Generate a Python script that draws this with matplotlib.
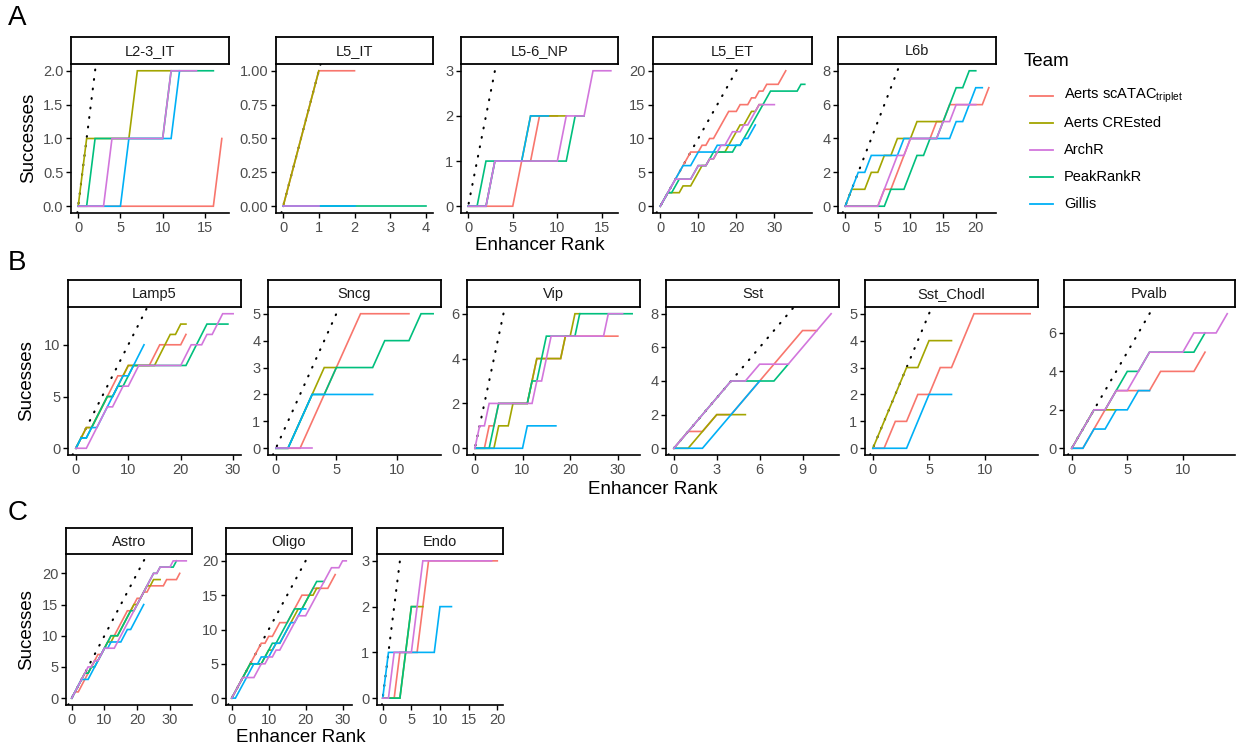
import matplotlib
matplotlib.use("Agg")
import matplotlib.pyplot as plt
from matplotlib.lines import Line2D
import numpy as np

plt.rcParams['font.family'] = ['Liberation Sans', 'DejaVu Sans']

W, H = 1236, 748

TEAMS = ["Aerts scATAC", "Aerts CREsted", "ArchR", "PeakRankR", "Gillis"]
TEAM_LABELS = ["Aerts scATAC$_{\\mathregular{triplet}}$", "Aerts CREsted", "ArchR", "PeakRankR", "Gillis"]
TEAM_COLORS = ["#F8766D", "#A3A500", "#D276DC", "#00BF7D", "#00B0F6"]
DRAW_ORDER = ["Aerts scATAC", "Aerts CREsted", "PeakRankR", "Gillis", "ArchR"]

# cumulative successes at enhancer rank 0..n
L2_3_IT = {
    "Aerts scATAC": [0, 0, 0, 0, 0, 0, 0, 0, 0, 0, 0, 0, 0, 0, 0, 0, 0, 1],
    "Aerts CREsted": [0, 1, 1, 1, 1, 1, 1, 2, 2, 2, 2, 2],
    "ArchR": [0, 0, 0, 0, 1, 1, 1, 1, 1, 1, 1, 2, 2, 2, 2],
    "PeakRankR": [0, 0, 1, 1, 1, 1, 1, 1, 1, 1, 1, 2, 2, 2, 2, 2, 2],
    "Gillis": [0, 0, 0, 0, 0, 0, 1, 1, 1, 1, 1, 1, 2],
}
L5_IT = {
    "Aerts scATAC": [0, 1, 1],
    "Aerts CREsted": [0, 1],
    "ArchR": [0, 0],
    "PeakRankR": [0, 0, 0, 0, 0],
    "Gillis": [0, 0, 0],
}
L5_6_NP = {
    "Aerts scATAC": [0, 0, 0, 0, 0, 0, 1, 1, 2, 2, 2],
    "Aerts CREsted": [0, 0, 0, 1, 1, 1, 1, 2, 2, 2, 2, 2],
    "ArchR": [0, 0, 0, 1, 1, 1, 1, 1, 1, 1, 1, 2, 2, 2, 3, 3, 3],
    "PeakRankR": [0, 0, 1, 1, 1, 1, 1, 1, 1, 1, 1, 1, 2, 2],
    "Gillis": [0, 0, 0, 1, 1, 1, 1, 2, 2, 2],
}
L5_ET = {
    "Aerts scATAC": [0, 1, 2, 3, 4, 5, 6, 7, 8, 8, 8, 9, 9, 10, 10, 11, 12, 13, 14, 14, 14,
                     15, 15, 15, 16, 16, 17, 17, 18, 18, 18, 18, 19, 20],
    "Aerts CREsted": [0, 1, 2, 2, 2, 2, 3, 3, 3, 4, 5, 6, 6, 7, 7, 8, 8, 8, 9, 10, 11, 12, 12,
                      13, 14, 14, 15, 15],
    "ArchR": [0, 1, 2, 3, 4, 4, 4, 4, 4, 5, 6, 6, 6, 7, 7, 8, 9, 9, 10, 11, 11, 11, 12, 12,
              13, 14, 15, 15, 15, 15, 15],
    "PeakRankR": [0, 1, 2, 2, 3, 4, 4, 4, 4, 5, 6, 6, 6, 7, 8, 8, 8, 8, 8, 8, 9, 9, 10, 11,
                  12, 13, 14, 15, 16, 17, 17, 17, 17, 17, 17, 17, 17, 18, 18],
    "Gillis": [0, 1, 2, 3, 4, 5, 6, 6, 6, 7, 8, 8, 8, 8, 8, 9, 9, 9, 9, 9, 9, 9, 10, 10, 11, 12],
}
L6b = {
    "Aerts scATAC": [0, 0, 0, 0, 0, 0, 1, 1, 2, 3, 4, 4, 4, 4, 5, 5, 6, 6, 6, 6, 6, 6, 7],
    "Aerts CREsted": [0, 1, 1, 1, 2, 2, 3, 3, 4, 4, 4, 5, 5, 5, 5, 5],
    "ArchR": [0, 0, 0, 0, 0, 0, 1, 2, 3, 3, 4, 4, 4, 4, 4, 5, 5, 6, 6, 6, 6],
    "PeakRankR": [0, 0, 0, 0, 0, 0, 0, 1, 1, 1, 2, 3, 3, 4, 4, 5, 6, 7, 7, 8, 8],
    "Gillis": [0, 1, 2, 2, 3, 3, 3, 3, 3, 4, 4, 4, 4, 4, 4, 4, 4, 5, 5, 6, 7, 7],
}
Lamp5 = {
    "Aerts scATAC": [0, 1, 2, 2, 3, 4, 5, 6, 7, 7, 8, 8, 8, 8, 8, 9, 10, 10, 10, 10, 10, 11],
    "Aerts CREsted": [0, 1, 2, 2, 3, 4, 5, 5, 6, 7, 8, 8, 8, 8, 8, 8, 9, 10, 11, 11, 12, 12],
    "ArchR": [0, 0, 0, 1, 2, 3, 4, 4, 5, 6, 6, 7, 8, 8, 8, 8, 8, 8, 8, 8, 8, 9, 10, 10, 10,
              11, 11, 12, 13, 13, 13],
    "PeakRankR": [0, 1, 1, 2, 3, 4, 5, 5, 6, 6, 7, 8, 8, 8, 8, 8, 8, 8, 8, 8, 8, 8, 9, 10, 11,
                  12, 12, 12, 12, 12],
    "Gillis": [0, 1, 1, 2, 2, 3, 4, 5, 6, 7, 7, 8, 9, 10],
}
Sncg = {
    "Aerts scATAC": [0, 0, 0, 1, 2, 3, 4, 5, 5, 5, 5, 5],
    "Aerts CREsted": [0, 0, 1, 2, 3, 3],
    "ArchR": [0, 0, 0, 0],
    "PeakRankR": [0, 0, 1, 2, 2, 3, 3, 3, 3, 4, 4, 4, 5, 5],
    "Gillis": [0, 0, 1, 2, 2, 2, 2, 2, 2],
}
Vip = {
    "Aerts scATAC": [0, 0, 0, 1, 1, 2, 2, 2, 2, 2, 2, 2, 3, 4, 4, 4, 4, 4, 4, 5, 5, 5, 5, 5,
                     5, 5, 5, 5, 5, 5, 5],
    "Aerts CREsted": [0, 0, 0, 0, 0, 1, 1, 1, 2, 2, 2, 2, 3, 4, 4, 4, 4, 4, 4, 5, 5, 6, 6],
    "ArchR": [0, 1, 1, 2, 2, 2, 2, 2, 2, 2, 2, 2, 2, 3, 3, 4, 5, 5, 5, 5, 5, 5, 5, 5, 5, 5,
              5, 5, 6, 6, 6, 6],
    "PeakRankR": [0, 0, 0, 0, 1, 2, 2, 2, 2, 2, 2, 2, 3, 3, 4, 5, 5, 5, 5, 5, 5, 5, 6, 6, 6,
                  6, 6, 6, 6, 6, 6, 6, 6, 6],
    "Gillis": [0, 0, 0, 0, 0, 0, 0, 0, 0, 0, 0, 1, 1, 1, 1, 1, 1, 1],
}
Sst = {
    "Aerts scATAC": [0, 1, 1, 2, 2, 3, 4, 5, 6, 7, 7],
    "Aerts CREsted": [0, 0, 1, 2, 2, 2],
    "ArchR": [0, 1, 2, 3, 4, 4, 5, 5, 5, 6, 7, 8],
    "PeakRankR": [0, 1, 2, 3, 4, 4, 4, 4, 5],
    "Gillis": [0, 0, 0, 1, 2, 3, 4],
}
Sst_Chodl = {
    "Aerts scATAC": [0, 0, 1, 1, 2, 2, 3, 3, 4, 5, 5, 5, 5, 5, 5],
    "Aerts CREsted": [0, 1, 2, 3, 3, 4, 4, 4],
    "Gillis": [0, 0, 0, 0, 1, 2, 2, 2],
}
Pvalb = {
    "Aerts scATAC": [0, 0, 1, 2, 3, 3, 3, 3, 4, 4, 4, 4, 5],
    "Aerts CREsted": [0, 1, 2, 2, 2],
    "ArchR": [0, 1, 2, 2, 3, 3, 4, 5, 5, 5, 5, 6, 6, 6, 7],
    "PeakRankR": [0, 1, 2, 2, 3, 4, 4, 5, 5, 5, 5, 5, 6],
    "Gillis": [0, 0, 1, 1, 2, 2, 3, 3],
}
Astro = {
    "Aerts scATAC": [0, 1, 1, 2, 3, 4, 5, 6, 7, 7, 8, 9, 10, 10, 11, 12, 13, 14, 14, 15, 16,
                     16, 17, 17, 18, 18, 18, 18, 18, 19, 19, 19, 19, 20],
    "Aerts CREsted": [0, 1, 2, 3, 4, 4, 5, 6, 6, 7, 8, 9, 9, 10, 10, 11, 12, 13, 14, 15, 15,
                      16, 17, 18, 18, 19, 19, 19],
    "ArchR": [0, 1, 2, 3, 4, 5, 5, 6, 6, 7, 8, 8, 8, 8, 9, 10, 11, 12, 13, 14, 15, 16, 17,
              18, 19, 20, 20, 21, 21, 21, 21, 22, 22, 22, 22, 22],
    "PeakRankR": [0, 1, 2, 3, 4, 4, 5, 5, 6, 7, 8, 9, 10, 10, 10, 11, 12, 13, 14, 14, 15, 16,
                  17, 18, 19, 20, 20, 21, 21, 21, 21, 21, 22],
    "Gillis": [0, 1, 2, 3, 3, 3, 4, 5, 6, 7, 8, 8, 9, 9, 9, 9, 10, 11, 11, 12, 13, 14, 15],
}
Oligo = {
    "Aerts scATAC": [0, 1, 2, 3, 4, 5, 6, 7, 8, 8, 9, 9, 10, 11, 11, 11, 12, 13, 14, 15, 15,
                     15, 16, 16, 16, 16, 16, 17, 18],
    "Aerts CREsted": [0, 1, 2, 3, 4, 5, 5, 5, 5, 6, 7, 7, 8, 8, 9, 10, 11, 12, 13, 13, 14, 15,
                      15, 16, 16],
    "ArchR": [0, 1, 2, 3, 3, 3, 3, 4, 5, 5, 6, 6, 7, 7, 8, 9, 10, 11, 12, 12, 12, 13, 14, 15,
              16, 17, 18, 19, 19, 19, 20, 20],
    "PeakRankR": [0, 1, 2, 3, 4, 5, 5, 5, 5, 6, 7, 8, 8, 9, 10, 11, 12, 13, 13, 13, 14, 15,
                  16, 17, 17, 17],
    "Gillis": [0, 0, 1, 2, 3, 4, 5, 5, 6, 6, 6, 7, 8, 8, 9, 10, 11, 11, 12, 13, 13],
}
Endo = {
    "Aerts scATAC": [0, 0, 0, 1, 1, 1, 1, 2, 3, 3, 3, 3, 3, 3, 3, 3, 3, 3, 3, 3, 3],
    "Aerts CREsted": [0, 0, 0, 0, 1, 2, 2, 2],
    "ArchR": [0, 0, 1, 1, 1, 1, 2, 3, 3, 3, 3, 3, 3, 3, 3, 3, 3, 3, 3, 3],
    "PeakRankR": [0, 0, 0, 0, 1, 2, 2],
    "Gillis": [0, 1, 1, 1, 1, 1, 1, 1, 1, 1, 2, 2, 2],
}

# tick values per panel
TICKS = {
    "L2-3_IT": ([0, 5, 10, 15], [0.0, 0.5, 1.0, 1.5, 2.0], "{:.1f}"),
    "L5_IT": ([0, 1, 2, 3, 4], [0.0, 0.25, 0.5, 0.75, 1.0], "{:.2f}"),
    "L5-6_NP": ([0, 5, 10, 15], [0, 1, 2, 3], "{:.0f}"),
    "L5_ET": ([0, 10, 20, 30], [0, 5, 10, 15, 20], "{:.0f}"),
    "L6b": ([0, 5, 10, 15, 20], [0, 2, 4, 6, 8], "{:.0f}"),
    "Lamp5": ([0, 10, 20, 30], [0, 5, 10], "{:.0f}"),
    "Sncg": ([0, 5, 10], [0, 1, 2, 3, 4, 5], "{:.0f}"),
    "Vip": ([0, 10, 20, 30], [0, 2, 4, 6], "{:.0f}"),
    "Sst": ([0, 3, 6, 9], [0, 2, 4, 6, 8], "{:.0f}"),
    "Sst_Chodl": ([0, 5, 10], [0, 1, 2, 3, 4, 5], "{:.0f}"),
    "Pvalb": ([0, 5, 10], [0, 2, 4, 6], "{:.0f}"),
    "Astro": ([0, 10, 20, 30], [0, 5, 10, 15, 20], "{:.0f}"),
    "Oligo": ([0, 10, 20, 30], [0, 5, 10, 15, 20], "{:.0f}"),
    "Endo": ([0, 5, 10, 15, 20], [0, 1, 2, 3], "{:.0f}"),
}

fig = plt.figure(figsize=(W / 100, H / 100), dpi=100)
fig.patch.set_facecolor("white")


def fx(x):
    return x / W


def fy(y):
    return 1 - y / H


def px_axes(l, t, r, b):
    return fig.add_axes([l / W, 1 - b / H, (r - l) / W, (b - t) / H])


def draw_panel(box, strip_top, title, data):
    l, t, r, b = box
    # strip
    sax = px_axes(l, strip_top, r, t)
    sax.set_xticks([])
    sax.set_yticks([])
    sax.set_facecolor("white")
    for s in sax.spines.values():
        s.set_linewidth(1.3)
        s.set_color("black")
    sax.text(0.5, 0.47, title, ha="center", va="center", fontsize=10.5,
             color="#1A1A1A", transform=sax.transAxes)

    ax = px_axes(l, t, r, b)
    ax.set_facecolor("none")
    ax.axline((0, 0), slope=1, color="black", lw=1.5, ls=(0, (0.4, 4.2)),
              dash_capstyle="round", zorder=1)
    for z, team in enumerate(DRAW_ORDER):
        if team in data:
            y = data[team]
            x = np.arange(len(y))
            ax.plot(x, y, color=TEAM_COLORS[TEAMS.index(team)], lw=1.2, zorder=2 + z,
                    solid_joinstyle="miter")
    xmax = max(len(v) - 1 for v in data.values())
    ymax = max(max(v) for v in data.values())
    ax.set_xlim(-0.05 * xmax, 1.05 * xmax)
    ax.set_ylim(-0.05 * ymax, 1.05 * ymax)
    xt, yt, fmt = TICKS[title]
    ax.set_xticks(xt)
    ax.set_yticks(yt)
    ax.set_yticklabels([fmt.format(v) for v in yt])
    ax.set_xticklabels([str(v) for v in xt])
    for side in ("top", "right"):
        ax.spines[side].set_visible(False)
    for side in ("left", "bottom"):
        ax.spines[side].set_linewidth(1.2)
        ax.spines[side].set_color("black")
    ax.tick_params(length=3.5, width=1.0, color="black", labelsize=10.5,
                   labelcolor="#4D4D4D", pad=2)
    return ax


# Row A
rowA = [((71, 64, 229, 213), "L2-3_IT", L2_3_IT),
        ((276, 64, 433, 213), "L5_IT", L5_IT),
        ((461, 64, 618, 213), "L5-6_NP", L5_6_NP),
        ((653, 64, 812, 213), "L5_ET", L5_ET),
        ((838, 64, 996, 213), "L6b", L6b)]
for box, title, data in rowA:
    draw_panel(box, 37, title, data)

rowB = [((68, 307, 241, 455), "Lamp5", Lamp5),
        ((268, 307, 441, 455), "Sncg", Sncg),
        ((467, 307, 640, 455), "Vip", Vip),
        ((666, 307, 839, 455), "Sst", Sst),
        ((865, 307, 1038, 455), "Sst_Chodl", Sst_Chodl),
        ((1064, 307, 1235, 455), "Pvalb", Pvalb)]
for box, title, data in rowB:
    draw_panel(box, 280, title, data)

rowC = [((66, 554, 192, 705), "Astro", Astro),
        ((226, 554, 352, 705), "Oligo", Oligo),
        ((377, 554, 503, 705), "Endo", Endo)]
for box, title, data in rowC:
    draw_panel(box, 528, title, data)

# panel letters
fig.text(fx(8), fy(18), "A", fontsize=20, ha="left", va="center")
fig.text(fx(8), fy(263), "B", fontsize=20, ha="left", va="center")
fig.text(fx(8), fy(513), "C", fontsize=20, ha="left", va="center")

# axis titles
fig.text(fx(29), fy(138), "Successes", rotation=90, fontsize=13.5, ha="center", va="center")
fig.text(fx(27), fy(381), "Sucesses", rotation=90, fontsize=13.5, ha="center", va="center")
fig.text(fx(27), fy(630), "Sucesses", rotation=90, fontsize=13.5, ha="center", va="center")
fig.text(fx(540), fy(245), "Enhancer Rank", fontsize=13.5, ha="center", va="center")
fig.text(fx(653), fy(490), "Enhancer Rank", fontsize=13.5, ha="center", va="center")
fig.text(fx(301), fy(737), "Enhancer Rank", fontsize=13.5, ha="center", va="center")

# legend
fig.text(fx(1024), fy(62), "Team", fontsize=13.5, ha="left", va="center")
leg_y = [96, 123, 150, 177, 204]
for lab, col, yy in zip(TEAM_LABELS, TEAM_COLORS, leg_y):
    fig.add_artist(Line2D([fx(1030), fx(1053)], [fy(yy), fy(yy)], color=col, lw=1.3,
                          transform=fig.transFigure))
    fig.text(fx(1064), fy(yy), lab, fontsize=10.5, ha="left", va="center")

fig.savefig("out.png", dpi=100, facecolor="white")
